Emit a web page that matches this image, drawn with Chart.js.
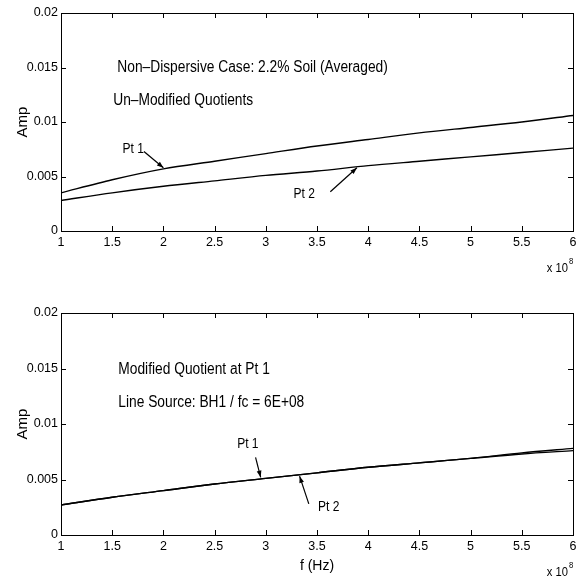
<!DOCTYPE html>
<html lang="en">
<head>
<meta charset="UTF-8">
<title>Amp vs f</title>
<script src="https://cdn.jsdelivr.net/npm/chart.js"></script>
<style>
  body { margin: 0; background: #fff; }
  .panel { position: absolute; left: 0; }
</style>
</head>
<body>
<div class="panel" style="top:0"><canvas id="topChart" width="576" height="290"></canvas></div>
<div class="panel" style="top:290px"><canvas id="bottomChart" width="576" height="288"></canvas></div>

<script>
// frequency (x 10^8 Hz)
const freq = [1, 1.5, 2, 2.5, 3, 3.5, 4, 4.5, 5, 5.5, 6];
const xTicks = [1, 1.5, 2, 2.5, 3, 3.5, 4, 4.5, 5, 5.5, 6];
const yTicks = [0, 0.005, 0.01, 0.015, 0.02];

// upper panel: un-modified quotients
const topPt1 = [0.0035, 0.0047, 0.0057, 0.0064, 0.0071, 0.0078, 0.0084, 0.0090, 0.0095, 0.0100, 0.0106];
const topPt2 = [0.0028, 0.0035, 0.0041, 0.0046, 0.0051, 0.0055, 0.0060, 0.0064, 0.0068, 0.0072, 0.0076];

// lower panel: modified quotient
const botPt1 = [0.0027, 0.0034, 0.0040, 0.0046, 0.0051, 0.0056, 0.0061, 0.0065, 0.0069, 0.0074, 0.0078];
const botPt2 = [0.0027, 0.0034, 0.0040, 0.0046, 0.0051, 0.0056, 0.0061, 0.0065, 0.0069, 0.0073, 0.0076];

const FONT = '"Liberation Sans", Arial, sans-serif';
const SQUEEZE = 0.86; // the original uses a narrow helvetica

function toPoints(ys) {
  return freq.map((f, i) => ({ x: f, y: ys[i] }));
}

function narrowText(ctx, text, x, y, size, align) {
  ctx.save();
  ctx.font = size + 'px ' + FONT;
  ctx.textAlign = align || 'left';
  ctx.textBaseline = 'middle';
  ctx.translate(x, y);
  ctx.scale(SQUEEZE, 1);
  ctx.fillText(text, 0, 0);
  ctx.restore();
}

// frame, inward ticks, annotations and the x 10^8 multiplier
const decor = {
  id: 'decor',
  afterDraw(chart, args, opts) {
    const { ctx, chartArea: a, scales: { x, y } } = chart;
    ctx.save();
    ctx.strokeStyle = '#000';
    ctx.lineWidth = 1;
    ctx.strokeRect(Math.round(a.left) + 0.5, Math.round(a.top) + 0.5,
                   Math.round(a.width), Math.round(a.height));
    const tl = 5;
    ctx.beginPath();
    x.ticks.forEach(t => {
      const px = Math.round(x.getPixelForValue(t.value)) + 0.5;
      ctx.moveTo(px, a.bottom); ctx.lineTo(px, a.bottom - tl);
      ctx.moveTo(px, a.top); ctx.lineTo(px, a.top + tl);
    });
    y.ticks.forEach(t => {
      const py = Math.round(y.getPixelForValue(t.value)) + 0.5;
      ctx.moveTo(a.left, py); ctx.lineTo(a.left + tl, py);
      ctx.moveTo(a.right, py); ctx.lineTo(a.right - tl, py);
    });
    ctx.stroke();

    ctx.fillStyle = '#000';
    (opts.texts || []).forEach(t => {
      narrowText(ctx, t.text, x.getPixelForValue(t.x), y.getPixelForValue(t.y), t.size || 16);
    });

    (opts.arrows || []).forEach(ar => {
      const x0 = x.getPixelForValue(ar.from[0]), y0 = y.getPixelForValue(ar.from[1]);
      const x1 = x.getPixelForValue(ar.to[0]), y1 = y.getPixelForValue(ar.to[1]);
      ctx.beginPath();
      ctx.lineWidth = 1.2;
      ctx.moveTo(x0, y0); ctx.lineTo(x1, y1);
      ctx.stroke();
      const ang = Math.atan2(y1 - y0, x1 - x0);
      const hl = 7, hw = 0.35;
      ctx.beginPath();
      ctx.moveTo(x1, y1);
      ctx.lineTo(x1 - hl * Math.cos(ang - hw), y1 - hl * Math.sin(ang - hw));
      ctx.lineTo(x1 - hl * Math.cos(ang + hw), y1 - hl * Math.sin(ang + hw));
      ctx.closePath();
      ctx.fill();
    });

    // x 10^8
    narrowText(ctx, 'x 10', a.right - 5, a.bottom + 37, 13, 'right');
    narrowText(ctx, '8', a.right - 4, a.bottom + 31, 9, 'left');
    ctx.restore();
  }
};

function makeChart(id, s1, s2, pad, xHeight, xTitle, annot) {
  const ctx = document.getElementById(id).getContext('2d');
  return new Chart(ctx, {
    type: 'line',
    data: {
      datasets: [
        { label: 'Pt 1', data: toPoints(s1), borderColor: '#000', borderWidth: 1.4, pointRadius: 0, tension: 0.3, fill: false },
        { label: 'Pt 2', data: toPoints(s2), borderColor: '#000', borderWidth: 1.4, pointRadius: 0, tension: 0.3, fill: false }
      ]
    },
    options: {
      responsive: false,
      animation: false,
      devicePixelRatio: 1,
      layout: { padding: { top: pad, right: 3, left: 0, bottom: 0 } },
      plugins: {
        legend: { display: false },
        tooltip: { enabled: false },
        decor: annot
      },
      scales: {
        x: {
          type: 'linear',
          min: 1, max: 6,
          afterBuildTicks: s => { s.ticks = xTicks.map(v => ({ value: v })); },
          afterFit: s => { s.height = xHeight; s.paddingLeft = 0; s.paddingRight = 0; },
          grid: { display: false, drawTicks: false },
          border: { display: false },
          ticks: {
            color: '#000', padding: 4, maxRotation: 0,
            font: { family: FONT, size: 12.5 },
            callback: v => String(v)
          },
          title: {
            display: !!xTitle, text: xTitle || '', color: '#000',
            font: { family: FONT, size: 14 }, padding: { top: 0, bottom: 3 }
          }
        },
        y: {
          min: 0, max: 0.02,
          afterBuildTicks: s => { s.ticks = yTicks.map(v => ({ value: v })); },
          afterFit: s => { s.width = 61; s.paddingTop = 0; s.paddingBottom = 0; },
          grid: { display: false, drawTicks: false },
          border: { display: false },
          ticks: {
            color: '#000', padding: 3,
            font: { family: FONT, size: 12.5 },
            callback: v => String(v)
          },
          title: {
            display: true, text: 'Amp', color: '#000',
            font: { family: FONT, size: 15 }, padding: { top: 14, bottom: 0 }
          }
        }
      }
    },
    plugins: [decor]
  });
}

makeChart('topChart', topPt1, topPt2, 13, 59, null, {
  texts: [
    { text: 'Non\u2013Dispersive Case: 2.2% Soil (Averaged)', x: 1.55, y: 0.0150 },
    { text: 'Un\u2013Modified Quotients', x: 1.51, y: 0.0120 },
    { text: 'Pt 1', x: 1.60, y: 0.0075, size: 14 },
    { text: 'Pt 2', x: 3.27, y: 0.0034, size: 14 }
  ],
  arrows: [
    { from: [1.81, 0.0073], to: [2.0, 0.0058] },
    { from: [3.63, 0.0036], to: [3.89, 0.0058] }
  ]
});

makeChart('bottomChart', botPt1, botPt2, 23, 43, 'f (Hz)', {
  texts: [
    { text: 'Modified Quotient at Pt 1', x: 1.56, y: 0.0149 },
    { text: 'Line Source: BH1 / fc = 6E+08', x: 1.56, y: 0.0119 },
    { text: 'Pt 1', x: 2.72, y: 0.0082, size: 14 },
    { text: 'Pt 2', x: 3.51, y: 0.0025, size: 14 }
  ],
  arrows: [
    { from: [2.9, 0.0070], to: [2.95, 0.0052] },
    { from: [3.42, 0.0028], to: [3.33, 0.0053] }
  ]
});
</script>
</body>
</html>
